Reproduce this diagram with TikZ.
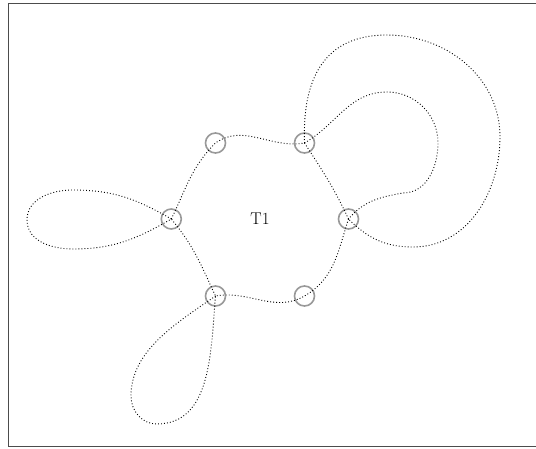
\documentclass[tikz,border=0pt]{standalone}
\begin{document}
\begin{tikzpicture}[x=1pt,y=1pt,
  vtx/.style={circle, draw=black!40, line width=1.6pt, minimum size=20pt, inner sep=0pt},
  strand/.style={line width=0.9pt, dash pattern=on 0.9pt off 2.1pt, black},
  frame/.style={draw=black!70, line width=1pt},
  lbl/.style={font=\fontsize{17}{20}\selectfont}]
\useasboundingbox (0,0) rectangle (536,448);
\draw[frame] (8.3,1.5) rectangle (540,444);
% vertices
\node[vtx] (TL) at (215.5,305) {};
\node[vtx] (TR) at (304.5,305) {};
\node[vtx] (R)  at (348.5,229) {};
\node[vtx] (L)  at (171.3,229) {};
\node[vtx] (BL) at (215.5,152) {};
\node[vtx] (BR) at (304.5,152) {};
\node[lbl] (T1) at (260,229) {T1};
% way points
\coordinate (ia) at (387,356);
\coordinate (ib) at (438,305);
\coordinate (ic) at (403,255);
\coordinate (oa) at (387,413);
\coordinate (ob) at (500,311);
\coordinate (oc) at (413,201);
\coordinate (la) at (73,258);
\coordinate (lb) at (27,228);
\coordinate (lc) at (73,199);
\coordinate (ba) at (131,52);
\coordinate (bb) at (156.7,24);
% inner face
\draw[strand] (L.center) to[out=64,in=225] (TL.center) to[out=35,in=190] (TR.center);
\draw[strand] (TR.center) to[out=-57,in=115] (R.center);
\draw[strand] (R.center) to[out=-108,in=30] (BR.center) to[out=210,in=10] (BL.center) to[out=115,in=-50] (L.center);
% inner right loop
\draw[strand] (TR.center) to[out=30,in=180] (ia) to[out=0,in=90] (ib) to[out=-90,in=0] (ic) to[out=190,in=50] (R.center);
% outer right loop
\draw[strand] (TR.center) to[out=92,in=180,looseness=1.2] (oa) to[out=0,in=90] (ob) to[out=-90,in=0] (oc) to[out=180,in=-45] (R.center);
% left petal
\draw[strand] (L.center) to[out=150,in=0] (la) to[out=180,in=90] (lb) to[out=-90,in=180] (lc) to[out=0,in=210] (L.center);
% bottom petal
\draw[strand] (BL.center) to[out=215,in=90,looseness=0.9] (ba) to[out=-90,in=180] (bb) to[out=0,in=-95] (BL.center);
\end{tikzpicture}
\end{document}
